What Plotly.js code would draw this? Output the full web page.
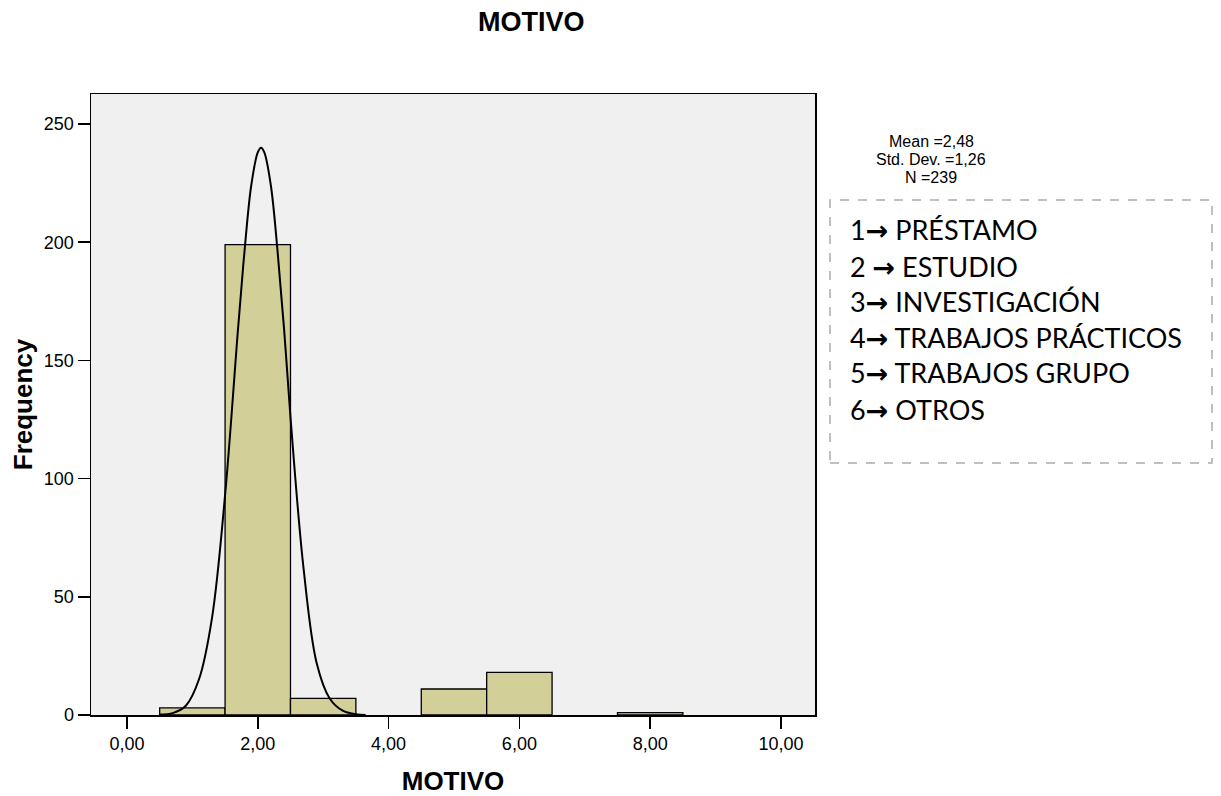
<!DOCTYPE html>
<html>
<head>
<meta charset="utf-8">
<script src="https://cdn.plot.ly/plotly-3.0.1.min.js"></script>
<style>html,body{margin:0;padding:0;background:#fff;}#chart{width:1221px;height:796px;}</style>
</head>
<body>
<div id="chart"></div>
<script>
// Histogram bins (bin centres) and frequencies
const binCenters = [1, 2, 3, 5, 6, 8];
const frequencies = [3, 199, 7, 11, 18, 1];

// Normal curve as drawn
const curveX = [0.5, 0.7, 0.9, 1.1, 1.3, 1.5, 1.7, 1.8, 1.9, 2.0, 2.05, 2.1, 2.2, 2.3, 2.4, 2.5, 2.7, 2.9, 3.1, 3.3, 3.5, 3.65];
const curveY = [0.2, 0.8, 3.9, 15, 41, 93, 164, 197, 224, 238, 240, 238, 224, 197, 164, 126, 62, 22, 7, 1.8, 0.3, 0];

// Axis ticks
const xTicks = [0, 2, 4, 6, 8, 10];
const xTickLabels = ["0,00", "2,00", "4,00", "6,00", "8,00", "10,00"];
const yTicks = [0, 50, 100, 150, 200, 250];

// Statistics text and code legend
const statsLines = ["Mean =2,48", "Std. Dev. =1,26", "N =239"];
const codeNums = ["1", "2 ", "3", "4", "5", "6"];
const codeLabels = ["PRÉSTAMO", "ESTUDIO", "INVESTIGACIÓN", "TRABAJOS PRÁCTICOS", "TRABAJOS GRUPO", "OTROS"];

const W = 1221, H = 796;
const L = 91, R = 815, T = 94, B = 715;
const pw = R - L, ph = B - T;
const px = v => (v - L) / pw;
const py = v => (B - v) / ph;

const traces = [
  {
    type: 'bar', x: binCenters, y: frequencies, width: 1,
    marker: {color: '#d3cf98', line: {color: '#000', width: 1.3}},
    hoverinfo: 'x+y', showlegend: false
  },
  {
    type: 'scatter', mode: 'lines', x: curveX, y: curveY,
    line: {color: '#000', width: 2, shape: 'spline', smoothing: 1},
    showlegend: false
  }
];

const annotations = [];
annotations.push({text: '<b>MOTIVO</b>', xref: 'paper', yref: 'paper', x: px(531), y: py(22),
  xanchor: 'center', yanchor: 'middle', showarrow: false,
  font: {family: 'Liberation Sans, Arial, sans-serif', size: 27, color: '#000'}});
const statY = [141, 159, 177];
statsLines.forEach((s, i) => annotations.push({text: s, xref: 'paper', yref: 'paper', x: px(931), y: py(statY[i]),
  xanchor: 'center', yanchor: 'middle', showarrow: false,
  font: {family: 'Liberation Sans, Arial, sans-serif', size: 16, color: '#000'}}));
const codeY = [230, 266, 301, 337, 372, 409];
codeLabels.forEach((s, i) => annotations.push({
  text: codeNums[i] + '<span style="font-family:DejaVu Sans;font-weight:bold">\u2192</span> ' + s,
  xref: 'paper', yref: 'paper', x: px(848), y: py(codeY[i]),
  xanchor: 'left', yanchor: 'middle', showarrow: false,
  font: {family: 'Lato, sans-serif', size: 27, color: '#000'}}));

const layout = {
  width: W, height: H,
  margin: {l: L, r: W - R, t: T, b: H - B, pad: 0},
  paper_bgcolor: '#fff', plot_bgcolor: '#f0f0f0',
  bargap: 0, showlegend: false,
  font: {family: 'Liberation Sans, Arial, sans-serif', size: 18, color: '#000'},
  xaxis: {
    range: [-0.55, 10.52], tickvals: xTicks, ticktext: xTickLabels,
    ticks: 'outside', ticklen: 12, tickwidth: 1.5, tickcolor: '#000',
    showgrid: false, zeroline: false, showline: true, mirror: true,
    linecolor: '#000', linewidth: 1.5,
    tickfont: {size: 18},
    title: {text: '<b>MOTIVO</b>', font: {size: 26}, standoff: 20}
  },
  yaxis: {
    range: [0, 262.7], tickvals: yTicks,
    ticks: 'outside', ticklen: 12, tickwidth: 1.5, tickcolor: '#000',
    showgrid: false, zeroline: false, showline: true, mirror: true,
    linecolor: '#000', linewidth: 1.5,
    tickfont: {size: 18},
    title: {text: '<b>Frequency</b>', font: {size: 26}, standoff: 4}
  },
  shapes: [{type: 'rect', xref: 'paper', yref: 'paper',
    x0: px(830), x1: px(1212), y0: py(463), y1: py(200),
    line: {color: '#aaaaaa', width: 1.5, dash: 'dash'}, fillcolor: 'rgba(0,0,0,0)'}],
  annotations: annotations
};

Plotly.newPlot('chart', traces, layout, {displayModeBar: false, staticPlot: true});
</script>
</body>
</html>
